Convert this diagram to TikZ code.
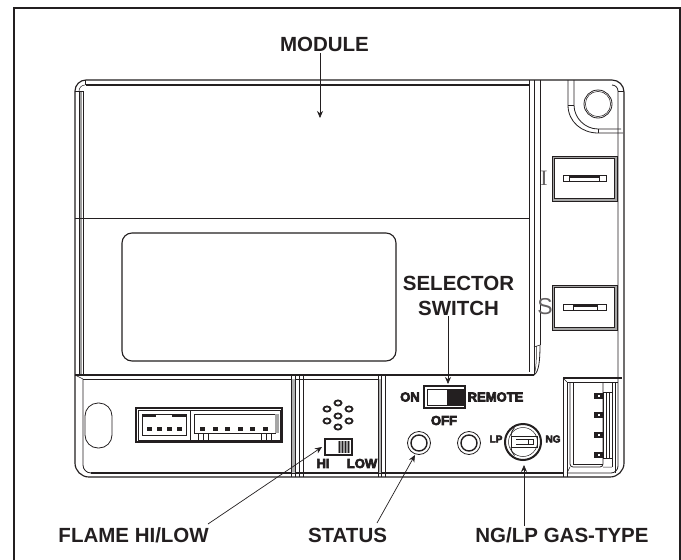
\documentclass[tikz,border=0pt]{standalone}
\usepackage{fontspec}
\setmainfont{Liberation Sans}
\newfontfamily\heavyfont[FakeBold=5]{Liberation Sans Bold}
\newfontfamily\serffont{Liberation Serif}
\usetikzlibrary{arrows.meta}
\definecolor{ink}{RGB}{35,31,32}
\begin{document}
\begin{tikzpicture}[x=1pt,y=-1pt,
  edge/.style={draw=ink,line width=.8pt},
  thin edge/.style={draw=ink,line width=.5pt},
  heavy edge/.style={draw=ink,line width=1.15pt},
  callout/.style={font=\fontsize{20.5}{24}\selectfont\bfseries,text=ink,inner sep=1pt},
  tiny/.style={font=\fontsize{13}{14}\selectfont\heavyfont,text=ink,inner sep=0pt},
  tinier/.style={font=\fontsize{10}{11}\selectfont\heavyfont,text=ink,inner sep=0pt},
  pointer/.style={draw=ink,line width=.7pt,-{Stealth[length=7pt,width=6pt]}},
  pin/.style={fill=ink,draw=none}]
\useasboundingbox (0,0) rectangle (681,560);
\fill[white] (0,0) rectangle (681,560);
\draw[draw=ink,line width=2.2pt] (14,561) -- (14,8) -- (680,8) -- (680,561);

% body outline
\draw[heavy edge] (75,91) arc[start angle=180,end angle=270,radius=11] -- (612,80)
   arc[start angle=-90,end angle=0,radius=12] -- (624,463)
   arc[start angle=0,end angle=90,radius=14] -- (89,477)
   arc[start angle=90,end angle=180,radius=14] -- cycle;
\draw[heavy edge] (86,85) -- (529,85);
\fill[gray!75] (79.8,91) rectangle (82.4,375);
\draw[edge] (83,91) -- (83,375);
\draw[thin edge] (79.5,91) -- (79.5,375);
\draw[thin edge] (79,91) arc[start angle=180,end angle=270,radius=6];
\draw[thin edge] (75,91) -- (83,91) (85,80) -- (85,85);
\draw[edge] (612,85) arc[start angle=-90,end angle=0,radius=6] -- (618,466)
   arc[start angle=0,end angle=90,radius=7] -- (568,473);
\draw[thin edge] (618,91) -- (624,91);
\draw[heavy edge] (91,473) -- (563,473);
\draw[edge] (76,218) -- (529,218);
\draw[thin edge] (75,218) -- (83,218);

% window
\draw[heavy edge,rounded corners=10pt] (122,233) rectangle (396,361);

% right ribs
\draw[edge] (529,80) -- (529,372) (534,80) -- (534,375) (540,80) -- (540,345);
\draw[thin edge] (534,347) -- (540,345);
\draw[thin edge] (536.5,346) .. controls (536.5,360) and (536,370) .. (534,375);
\draw[edge] (540,345) .. controls (540,360) and (539,372) .. (534,375);

% corner boss
\draw[edge] (568,80) -- (568,105) .. controls (568,122) and (582,133) .. (598,133) -- (623,133);
\draw[edge] (574,80) -- (574,105) .. controls (574,118) and (585,129) .. (598,129) -- (621,129);
\draw[thin edge] (568,105) -- (574,105) (598,129) -- (598,133);
\draw[edge] (598,104) circle[radius=14];
\draw[thin edge] (598,104) circle[radius=12.6];

% terminals
\foreach \ty in {156,285}{
  \fill[gray!70] (552,\ty) rectangle (617,\ty+45);
  \draw[edge,fill=white] (554.5,\ty+2.5) rectangle (614.5,\ty+42.5);
  \draw[edge] (552,\ty) rectangle (617,\ty+45);
  \draw[edge] (563,\ty+19) rectangle (606,\ty+25);
}
\fill[ink] (569,175) rectangle (599,177.5);
\fill[ink] (573,304) rectangle (597,306.5);
\draw[thin edge] (569,175) -- (569,181) (599,175) -- (599,181) (573,304) -- (573,310) (597,304) -- (597,310);
\node[text=ink!70,inner sep=0pt,font=\fontsize{22}{24}\selectfont\serffont] (termI) at (544,178) {I};
\node[text=ink!70,inner sep=0pt,font=\fontsize{23}{24}\selectfont] (termS) at (545,307) {S};

% lower panel
\draw[heavy edge] (75,375) -- (534,375);
\draw[edge] (83,379) -- (381,379);
\draw[thin edge] (75,375) -- (83,379);
\draw[edge] (83,379) -- (83,465) arc[start angle=180,end angle=90,radius=8];
\foreach \vx/\vw in {291/.9,295/.9,299/.9,303/.9,378/.7,381/.9,385/.9}
  \draw[draw=ink,line width=\vw pt] (\vx,375) -- (\vx,477);
\fill[gray!60] (292,379) rectangle (294.5,473);
\fill[gray!60] (379,379) rectangle (380.5,473);

% oval
\draw[edge,rounded corners=13pt] (85,403) rectangle (112,448);

% two-part connector
\draw[heavy edge] (136,408) rectangle (282,442);
\draw[thin edge] (138,410) rectangle (280,440);
\draw[edge] (190,410) -- (190,442);
\draw[edge] (142,414) -- (142,435) -- (186,435) -- (186,414) -- cycle;
\draw[draw=ink,line width=1.2pt] (142,416) -- (156,416) (172,416) -- (186,416);
\draw[edge] (194,414) -- (194,433) -- (275,433) -- (275,414) -- cycle;
\fill[gray!70] (275,414) rectangle (279,433);
\draw[thin edge] (198,433) -- (198,440) (203,433) -- (203,440) (208,433) -- (208,440)
   (261,433) -- (261,440) (266,433) -- (266,440) (271,433) -- (271,440);
\foreach \px in {149,159,169,179}
  \fill[pin] (\px-2.5,426.5) rectangle (\px+2.5,431);
\foreach \px in {202,215,227,240,252,265}
  \fill[pin] (\px-2.5,426.5) rectangle (\px+2.5,431);

% burner holes
\foreach \hx/\hy in {338/403,327/409,349/409,338/416,327/421,349/421,338/427}
  \draw[draw=ink,line width=1.8pt,fill=white] (\hx,\hy) ellipse[x radius=3.5,y radius=2.6];

% HI/LOW switch
\draw[draw=ink,line width=1.8pt] (325,439) rectangle (352,455);
\fill[gray!80] (338,441) rectangle (350,453);
\foreach \sx in {339.5,342.5,345.5,348.5}
  \draw[draw=ink,line width=1pt] (\sx,441) -- (\sx,453);
\node[tiny] (hilabel) at (323,463.5) {HI};
\node[tiny] (lowlabel) at (362,463.5) {LOW};

% selector switch
\draw[draw=ink,line width=1.8pt] (424,386) rectangle (465,408);
\draw[draw=ink,line width=1pt] (427,389) rectangle (463,405);
\fill[ink] (447,389) rectangle (463,405);
\node[tiny] (onlabel) at (410,397) {ON};
\node[tiny] (remotelabel) at (495.5,397) {REMOTE};
\node[tiny] (offlabel) at (444,420.5) {OFF};

% status lamps
\foreach \lx in {419,469}{
  \draw[edge] (\lx,443) circle[radius=11.5];
  \draw[draw=ink,line width=1.4pt] (\lx,443) circle[radius=8];
}

% gas type knob
\draw[draw=ink,line width=2pt] (523,442) circle[radius=18];
\draw[thin edge] (523,442) circle[radius=14.5];
\fill[white] (510,437) rectangle (536,447);
\draw[edge] (511,436) -- (537,436) -- (537,447) -- (511,447) -- cycle;
\draw[edge] (511,436) arc[start angle=180,end angle=225,radius=12];
\draw[edge] (511,447) arc[start angle=180,end angle=135,radius=12];
\draw[draw=ink,line width=1pt,fill=white] (528,439) rectangle (533,444);
\draw[thin edge] (516,439) -- (528,439) (516,444) -- (528,444);
\node[tinier] (lplabel) at (496,439) {LP};
\node[tinier] (nglabel) at (553,439) {NG};

% right connector
\draw[edge] (563,378) -- (563,477) (567,382) -- (567,477);
\draw[heavy edge] (563,378) -- (622,378);
\draw[edge] (567,382) -- (618,382);
\draw[thin edge] (563,378) -- (567,382);
\draw[edge,rounded corners=3pt] (570,382) -- (570,467) -- (603,467) -- (603,382);
\draw[thin edge] (573,382) -- (573,464) -- (603,464);
\draw[edge] (612,382) -- (612,467) (615,382) -- (615,473);
\draw[thin edge] (570,467) -- (567,473) (603,467) -- (612,467);
\draw[edge] (603,392) rectangle (612,458);
\draw[thin edge] (606,392) -- (606,458) (609,392) -- (609,458);
\foreach \py in {396,415,435,455}{
  \fill[pin] (594,\py-3) rectangle (603,\py+3);
  \fill[white] (597.5,\py-1) rectangle (599.5,\py+1);
}

% callouts
\node[callout] (modlabel) at (324.5,44.5) {MODULE};
\node[callout] (sellabel) at (458.5,283) {SELECTOR};
\node[callout] (swlabel) at (458.5,308) {SWITCH};
\node[callout,anchor=east] (flamelabel) at (210,535) {FLAME HI/LOW};
\node[callout] (statuslabel) at (347.5,535) {STATUS};
\node[callout] (gaslabel) at (562,535) {NG/LP GAS-TYPE};

\coordinate (modtip) at (320,118);
\coordinate (seltip) at (448,384);
\coordinate (flamestart) at (208,524);
\coordinate (flametip) at (322,447);
\coordinate (statusstart) at (377,523);
\coordinate (statustip) at (415,455);
\coordinate (gastip) at (524,465);
\draw[pointer] (modlabel.south -| modtip) -- (modtip);
\draw[pointer] (swlabel.south -| seltip) -- (seltip);
\draw[pointer] (flamestart) -- (flametip);
\draw[pointer] (statusstart) -- (statustip);
\draw[pointer] (gaslabel.north -| gastip) -- (gastip);
\end{tikzpicture}
\end{document}
